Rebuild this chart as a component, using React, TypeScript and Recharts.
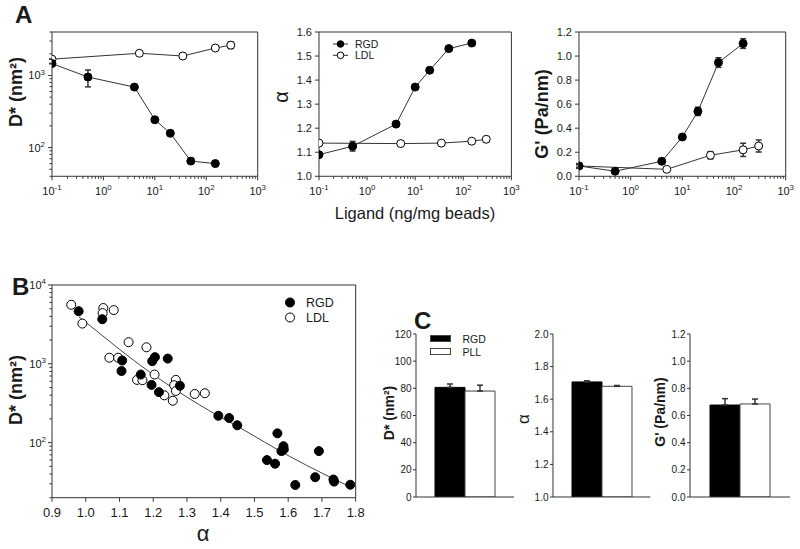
import React from 'react';
import {
  LineChart,
  Line,
  XAxis,
  YAxis,
  ErrorBar,
  ReferenceArea,
  ComposedChart,
  Scatter,
  BarChart,
  Bar,
  Legend,
} from 'recharts';

const FONT = 'Arial, "Liberation Sans", Helvetica, sans-serif';
const INK = '#1a1a1a';
const LINE = '#333';

// ---------- A: response vs ligand coating ----------
const seriesAB = ['RGD', 'LDL'];
const rgdLigand = [0.1, 0.5, 4, 10, 20, 50, 150];
const ldlLigand = [0.1, 5, 35, 150, 300];

const rgdDstar = [1460, 950, 690, 243, 158, 65, 60];
const rgdDstarErr = [[0, 0], [255, 240], [0, 0], [0, 0], [0, 0], [0, 0], [0, 0]];
const ldlDstar = [1680, 2030, 1860, 2400, 2630];
const ldlDstarErr = [[0, 0], [130, 140], [0, 0], [150, 170], [270, 290]];

const rgdAlpha = [1.09, 1.125, 1.217, 1.371, 1.441, 1.531, 1.554];
const rgdAlphaErr = [0, 0.02, 0, 0, 0, 0, 0];
const ldlAlpha = [1.138, 1.136, 1.138, 1.146, 1.154];
const ldlAlphaErr = [0, 0, 0.004, 0.008, 0.01];

const rgdStiff = [0.086, 0.042, 0.125, 0.327, 0.54, 0.946, 1.104];
const rgdStiffErr = [0.01, 0.008, 0.01, 0.015, 0.035, 0.04, 0.04];
const ldlStiff = [0.086, 0.058, 0.175, 0.22, 0.252];
const ldlStiffErr = [0.02, 0.008, 0.03, 0.055, 0.05];

const alphaTicksA = [1.0, 1.1, 1.2, 1.3, 1.4, 1.5, 1.6];
const stiffTicksA = [0, 0.2, 0.4, 0.6, 0.8, 1.0, 1.2];

// ---------- B: D* vs alpha scatter ----------
const rgdScatAlpha = [0.979, 1.049, 1.108, 1.106, 1.163, 1.195, 1.197, 1.205, 1.217, 1.243, 1.279,
  1.393, 1.425, 1.449, 1.537, 1.561, 1.568, 1.586, 1.587, 1.58, 1.621, 1.68, 1.691, 1.734, 1.736, 1.784];
const rgdScatD = [4650, 3680, 1100, 810, 730, 540, 1080, 1215, 437, 1165, 527,
  219, 205, 166, 60, 54, 131, 90, 82, 78, 29, 36.4, 78, 34, 32, 29.2];
const ldlScatAlpha = [0.957, 0.99, 1.052, 1.05, 1.083, 1.127, 1.07, 1.096, 1.18, 1.152, 1.168,
  1.204, 1.233, 1.258, 1.267, 1.262, 1.267, 1.323, 1.353];
const ldlScatD = [5610, 3240, 5100, 4400, 4800, 1880, 1195, 1195, 1620, 625, 620,
  731, 398, 340, 625, 535, 452, 414, 423];
const fitAlpha = [0.98, 1.042, 1.13, 1.25, 1.367, 1.456, 1.604, 1.7, 1.787];
const fitD = [3940, 2415, 1213, 520, 253, 155, 67, 41, 27];
const alphaTicksB = [0.9, 1.0, 1.1, 1.2, 1.3, 1.4, 1.5, 1.6, 1.7, 1.8];

// ---------- C: bar comparisons ----------
const seriesC = ['RGD', 'PLL'];
const cDstar = [80.7, 78.0];
const cDstarErr = [2.5, 4.3];
const cAlpha = [1.706, 1.679];
const cAlphaErr = [0.007, 0.005];
const cStiff = [0.677, 0.685];
const cStiffErr = [0.047, 0.036];
const cDstarTicks = [0, 20, 40, 60, 80, 100, 120];
const cAlphaTicks = [1.0, 1.2, 1.4, 1.6, 1.8, 2.0];
const cStiffTicks = [0, 0.2, 0.4, 0.6, 0.8, 1.0, 1.2];

// log axis ticks (decades + minor)
const logTicks = (lo: number, hi: number) => {
  const out: number[] = [];
  for (let e = Math.floor(Math.log10(lo)); e <= Math.ceil(Math.log10(hi)); e++) {
    for (let k = 1; k < 10; k++) {
      const v = +(k * Math.pow(10, e)).toPrecision(6);
      if (v >= lo - 1e-9 && v <= hi + 1e-9) out.push(v);
    }
  }
  return out;
};
const isDecade = (v: number) => Math.abs(Math.log10(v) - Math.round(Math.log10(v))) < 1e-6;

const pow10 = (sz: number) => (v: number) =>
  isDecade(v) ? (
    <>
      10<tspan dy={-sz * 0.42} fontSize={sz * 0.72}>{Math.round(Math.log10(v))}</tspan>
    </>
  ) : null;
const fixed = (d: number) => (v: number) => v.toFixed(d);

type TickCfg = {
  side: 'left' | 'bottom';
  size: number;
  len: number;
  gap: number;
  fmt: (v: number) => React.ReactNode;
  minorLen?: number;
};

const makeTick = (c: TickCfg) => (p: any) => {
  const { x, y } = p;
  const v = p.payload.value;
  const label = c.fmt(v);
  const len = label === null ? c.minorLen ?? 2 : c.len;
  if (c.side === 'bottom') {
    return (
      <g>
        <line x1={x} x2={x} y1={y} y2={y + len} stroke={LINE} />
        {label !== null && (
          <text x={x} y={y + c.gap} textAnchor="middle" fontSize={c.size} fill={INK} fontFamily={FONT}>
            {label}
          </text>
        )}
      </g>
    );
  }
  return (
    <g>
      <line x1={x - len} x2={x} y1={y} y2={y} stroke={LINE} />
      {label !== null && (
        <text x={x - c.len - c.gap} y={y + c.size * 0.36} textAnchor="end" fontSize={c.size} fill={INK} fontFamily={FONT}>
          {label}
        </text>
      )}
    </g>
  );
};

// chart frame helpers
const PL = 50;
const PT = 8;
const PR = 16;
const PB = 34;
type Box = { x0: number; x1: number; y0: number; y1: number };
const frame = (b: Box) => ({
  style: { position: 'absolute' as const, left: b.x0 - PL, top: b.y0 - PT },
  width: b.x1 - b.x0 + PL + PR,
  height: b.y1 - b.y0 + PT + PB,
});
const margin = { top: PT, right: PR, bottom: 0, left: 0 };

const rows = (xs: number[], ys: number[], es?: any[]) => xs.map((x, i) => ({ x, y: ys[i], e: es ? es[i] : 0 }));

const filledDot = { r: 4, fill: '#000', stroke: '#000', strokeWidth: 1 };
const openDot = { r: 4, fill: '#fff', stroke: '#000', strokeWidth: 1 };

const ligandTicks = logTicks(0.1, 1000);

function DoseLegend() {
  return (
    <svg width={60} height={26} style={{ overflow: 'visible', display: 'block' }}>
      {seriesAB.map((s, i) => (
        <g key={s}>
          <line x1={0} x2={15} y1={6 + i * 11.3} y2={6 + i * 11.3} stroke={LINE} />
          <circle cx={7.5} cy={6 + i * 11.3} r={3.3} fill={i === 0 ? '#000' : '#fff'} stroke="#000" />
          <text x={22} y={9.7 + i * 11.3} fontSize={10.5} fill={INK} fontFamily={FONT}>{s}</text>
        </g>
      ))}
    </svg>
  );
}

function DosePanel(props: {
  box: Box;
  yDomain: [number, number];
  log?: boolean;
  yTicks: number[];
  yFmt: (v: number) => React.ReactNode;
  rgd: number[];
  rgdErr: any[];
  ldl: number[];
  ldlErr: any[];
  legend?: boolean;
}) {
  const f = frame(props.box);
  return (
    <div style={f.style}>
      <LineChart width={f.width} height={f.height} margin={margin}>
        <XAxis
          dataKey="x"
          type="number"
          scale="log"
          domain={[0.1, 1000]}
          ticks={ligandTicks}
          interval={0}
          allowDataOverflow
          axisLine={false}
          tickLine={false}
          tickSize={0}
          tickMargin={0}
          height={PB}
          tick={makeTick({ side: 'bottom', size: 11, len: 4, minorLen: 2.5, gap: 18.5, fmt: pow10(11) })}
        />
        <YAxis
          type="number"
          scale={props.log ? 'log' : 'linear'}
          domain={props.yDomain}
          ticks={props.yTicks}
          interval={0}
          allowDataOverflow
          axisLine={false}
          tickLine={false}
          tickSize={0}
          tickMargin={0}
          width={PL}
          tick={makeTick({ side: 'left', size: 11, len: 4, minorLen: 2.5, gap: 3, fmt: props.yFmt })}
        />
        <ReferenceArea x1={0.1} x2={1000} y1={props.yDomain[0]} y2={props.yDomain[1]} fill="none" stroke={LINE} strokeWidth={1} />
        <Line data={rows(ldlLigand, props.ldl, props.ldlErr)} dataKey="y" stroke={LINE} strokeWidth={1} dot={openDot} isAnimationActive={false}>
          <ErrorBar dataKey="e" width={3} stroke={LINE} direction="y" />
        </Line>
        <Line data={rows(rgdLigand, props.rgd, props.rgdErr)} dataKey="y" stroke={LINE} strokeWidth={1} dot={filledDot} isAnimationActive={false}>
          <ErrorBar dataKey="e" width={3} stroke={LINE} direction="y" />
        </Line>
        {props.legend && (
          <Legend
            layout="vertical"
            align="center"
            verticalAlign="middle"
            content={() => <DoseLegend />}
            wrapperStyle={{ left: 64, top: 14, width: 60, height: 26 }}
          />
        )}
      </LineChart>
    </div>
  );
}

function ScatterLegend() {
  return (
    <svg width={60} height={28} style={{ overflow: 'visible', display: 'block' }}>
      {seriesAB.map((s, i) => (
        <g key={s}>
          <circle cx={5} cy={5.5 + i * 15} r={4.5} fill={i === 0 ? '#000' : '#fff'} stroke="#000" />
          <text x={21} y={10 + i * 15} fontSize={12.5} fill={INK} fontFamily={FONT}>{s}</text>
        </g>
      ))}
    </svg>
  );
}

function AlphaScatter() {
  const box = { x0: 52.3, x1: 356, y0: 285, y1: 497.7 };
  const f = frame(box);
  const rgd = rgdScatAlpha.map((a, i) => ({ a, d: rgdScatD[i] }));
  const ldl = ldlScatAlpha.map((a, i) => ({ a, d: ldlScatD[i] }));
  const fit = fitAlpha.map((a, i) => ({ a, d: fitD[i] }));
  return (
    <div style={f.style}>
      <ComposedChart width={f.width} height={f.height} margin={margin}>
        <XAxis
          dataKey="a"
          type="number"
          domain={[0.9, 1.8]}
          ticks={alphaTicksB}
          interval={0}
          allowDataOverflow
          axisLine={false}
          tickLine={false}
          tickSize={0}
          tickMargin={0}
          height={PB}
          tick={makeTick({ side: 'bottom', size: 13, len: 4, gap: 19.5, fmt: fixed(1) })}
        />
        <YAxis
          dataKey="d"
          type="number"
          scale="log"
          domain={[20, 10000]}
          ticks={logTicks(20, 10000)}
          interval={0}
          allowDataOverflow
          axisLine={false}
          tickLine={false}
          tickSize={0}
          tickMargin={0}
          width={PL}
          tick={makeTick({ side: 'left', size: 11, len: 4, minorLen: 2.5, gap: 2, fmt: pow10(11) })}
        />
        <ReferenceArea x1={0.9} x2={1.8} y1={20} y2={10000} fill="none" stroke={LINE} strokeWidth={1} />
        <Line data={fit} dataKey="d" type="monotone" stroke="#444" strokeWidth={1} dot={false} isAnimationActive={false} />
        <Scatter
          data={ldl}
          dataKey="d"
          isAnimationActive={false}
          shape={(p: any) => <circle cx={p.cx} cy={p.cy} r={4.5} fill="#fff" stroke="#000" strokeWidth={1} />}
        />
        <Scatter
          data={rgd}
          dataKey="d"
          isAnimationActive={false}
          shape={(p: any) => <circle cx={p.cx} cy={p.cy} r={4.5} fill="#000" stroke="#000" strokeWidth={1} />}
        />
        <Legend
          layout="vertical"
          align="center"
          verticalAlign="middle"
          content={() => <ScatterLegend />}
          wrapperStyle={{ left: 283, top: 20, width: 60, height: 28 }}
        />
      </ComposedChart>
    </div>
  );
}

function BarLegend() {
  return (
    <svg width={60} height={24} style={{ overflow: 'visible', display: 'block' }}>
      {seriesC.map((s, i) => (
        <g key={s}>
          <rect x={0.5} y={0.5 + i * 13} width={20} height={6} fill={i === 0 ? '#000' : '#fff'} stroke="#444" />
          <text x={32.5} y={7.5 + i * 13} fontSize={10.5} fill={INK} fontFamily={FONT}>{s}</text>
        </g>
      ))}
    </svg>
  );
}

function BarPanel(props: {
  box: Box;
  vals: number[];
  errs: number[];
  domain: [number, number];
  ticks: number[];
  fmt: (v: number) => React.ReactNode;
  legend?: boolean;
}) {
  const f = frame(props.box);
  const data = [
    {
      name: 'c',
      rgd: props.vals[0],
      rgdErr: [0, props.errs[0]],
      pll: props.vals[1],
      pllErr: [0, props.errs[1]],
    },
  ];
  return (
    <div style={f.style}>
      <BarChart width={f.width} height={f.height} margin={margin} data={data} barGap={0} barSize={30}>
        <XAxis dataKey="name" tick={false} tickLine={false} axisLine={{ stroke: LINE }} height={PB} />
        <YAxis
          type="number"
          domain={props.domain}
          ticks={props.ticks}
          interval={0}
          allowDataOverflow
          axisLine={{ stroke: LINE }}
          tickLine={false}
          tickSize={0}
          tickMargin={0}
          width={PL}
          tick={makeTick({ side: 'left', size: 10, len: 3, gap: 1.5, fmt: props.fmt })}
        />
        <Bar dataKey="rgd" fill="#000" stroke="#000" isAnimationActive={false}>
          <ErrorBar dataKey="rgdErr" width={3} stroke={LINE} direction="y" />
        </Bar>
        <Bar dataKey="pll" fill="#fff" stroke="#444" isAnimationActive={false}>
          <ErrorBar dataKey="pllErr" width={3} stroke={LINE} direction="y" />
        </Bar>
        {props.legend && (
          <Legend
            layout="vertical"
            align="center"
            verticalAlign="middle"
            content={() => <BarLegend />}
            wrapperStyle={{ left: 64, top: 8.5, width: 60, height: 24 }}
          />
        )}
      </BarChart>
    </div>
  );
}

function VLabel(props: { x: number; y: number; size: number; bold?: boolean; children: React.ReactNode }) {
  return (
    <text
      x={props.x}
      y={props.y}
      fontSize={props.size}
      fontWeight={props.bold ? 'bold' : 'normal'}
      textAnchor="middle"
      transform={`rotate(-90 ${props.x} ${props.y})`}
    >
      {props.children}
    </text>
  );
}

function Annotations() {
  return (
    <svg
      width={800}
      height={549}
      style={{ position: 'absolute', left: 0, top: 0, pointerEvents: 'none' }}
      fontFamily={FONT}
      fill={INK}
    >
      <text x={15} y={23} fontSize={24} fontWeight="bold">A</text>
      <text x={12} y={295} fontSize={24} fontWeight="bold">B</text>
      <text x={414} y={329} fontSize={24} fontWeight="bold">C</text>
      <text x={415} y={219} fontSize={16.5} textAnchor="middle">Ligand (ng/mg beads)</text>
      <text x={203} y={541} fontSize={22} textAnchor="middle">α</text>
      <VLabel x={22} y={92} size={18} bold>D* (nm²)</VLabel>
      <VLabel x={288} y={97} size={20}>α</VLabel>
      <VLabel x={548} y={114} size={18} bold>G' (Pa/nm)</VLabel>
      <VLabel x={22} y={390} size={18} bold>D* (nm²)</VLabel>
      <VLabel x={393.5} y={413} size={14} bold>D* (nm²)</VLabel>
      <VLabel x={529} y={419} size={17}>α</VLabel>
      <VLabel x={665} y={412} size={14} bold>G' (Pa/nm)</VLabel>
    </svg>
  );
}

export default function App() {
  return (
    <div
      style={{
        position: 'absolute',
        left: 0,
        top: 0,
        width: 800,
        height: 549,
        background: '#fff',
        overflow: 'hidden',
        fontFamily: FONT,
      }}
    >
      <DosePanel
        box={{ x0: 52.3, x1: 258, y0: 31.7, y1: 176 }}
        yDomain={[40, 4000]}
        log
        yTicks={logTicks(40, 4000)}
        yFmt={pow10(11)}
        rgd={rgdDstar}
        rgdErr={rgdDstarErr}
        ldl={ldlDstar}
        ldlErr={ldlDstarErr}
      />
      <DosePanel
        box={{ x0: 319.3, x1: 511.7, y0: 31.7, y1: 176 }}
        yDomain={[1.0, 1.6]}
        yTicks={alphaTicksA}
        yFmt={fixed(1)}
        rgd={rgdAlpha}
        rgdErr={rgdAlphaErr}
        ldl={ldlAlpha}
        ldlErr={ldlAlphaErr}
        legend
      />
      <DosePanel
        box={{ x0: 579.3, x1: 786, y0: 31.7, y1: 176 }}
        yDomain={[0, 1.2]}
        yTicks={stiffTicksA}
        yFmt={fixed(1)}
        rgd={rgdStiff}
        rgdErr={rgdStiffErr}
        ldl={ldlStiff}
        ldlErr={ldlStiffErr}
      />
      <AlphaScatter />
      <BarPanel
        box={{ x0: 416, x1: 514, y0: 334.3, y1: 497.3 }}
        vals={cDstar}
        errs={cDstarErr}
        domain={[0, 120]}
        ticks={cDstarTicks}
        fmt={fixed(0)}
        legend
      />
      <BarPanel
        box={{ x0: 552.7, x1: 650, y0: 334.3, y1: 497.3 }}
        vals={cAlpha}
        errs={cAlphaErr}
        domain={[1.0, 2.0]}
        ticks={cAlphaTicks}
        fmt={fixed(1)}
      />
      <BarPanel
        box={{ x0: 690, x1: 790, y0: 334.3, y1: 497.3 }}
        vals={cStiff}
        errs={cStiffErr}
        domain={[0, 1.2]}
        ticks={cStiffTicks}
        fmt={fixed(1)}
      />
      <Annotations />
    </div>
  );
}
